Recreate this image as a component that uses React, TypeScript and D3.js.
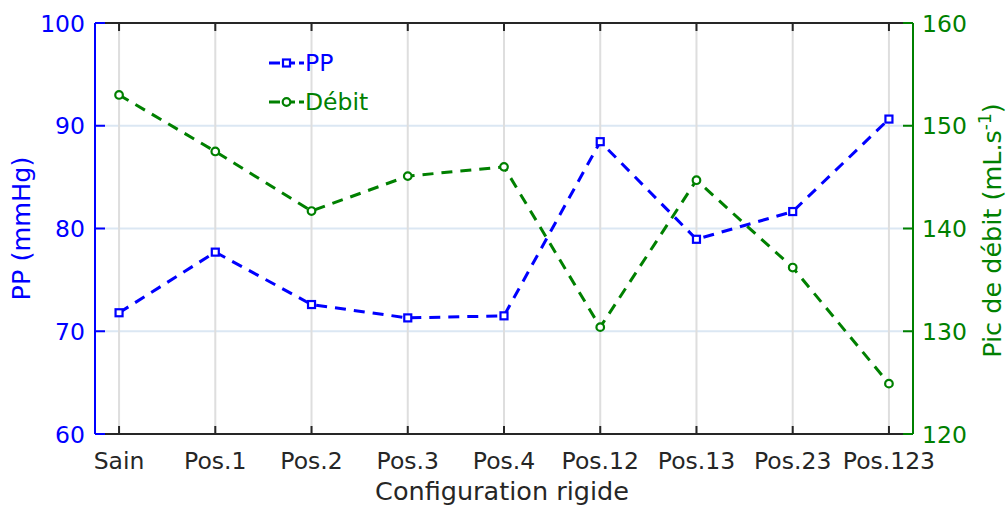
import React from "react";
import * as d3 from "d3";

const categories = ["Sain", "Pos.1", "Pos.2", "Pos.3", "Pos.4", "Pos.12", "Pos.13", "Pos.23", "Pos.123"];
const ppValues = [71.8, 77.7, 72.6, 71.3, 71.5, 88.45, 78.95, 81.65, 90.65];
const debitValues = [153.0, 147.5, 141.7, 145.1, 146.0, 130.4, 144.7, 136.2, 124.9];
const leftTicks = [60, 70, 80, 90, 100];
const rightTicks = [120, 130, 140, 150, 160];

const W = 1008, H = 505;
const L = 95, R = 913, T = 23, B = 434;
const BLUE = "#0000ff";
const GREEN = "#008000";
const FONT = "DejaVu Sans, Verdana, sans-serif";
const TICK_FS = 23.5;
const TITLE_FS = 25.5;

export default function App() {
  const x = d3.scaleLinear().domain([-0.25, categories.length - 0.75]).range([L, R]);
  const yL = d3.scaleLinear().domain([60, 100]).range([B, T]);
  const yR = d3.scaleLinear().domain([120, 160]).range([B, T]);
  const linePP = d3.line<number>().x((_, i) => x(i)).y((d) => yL(d));
  const lineD = d3.line<number>().x((_, i) => x(i)).y((d) => yR(d));

  return (
    <svg width={W} height={H} style={{ position: "absolute", left: 0, top: 0, background: "#fff" }} fontFamily={FONT}>
      {leftTicks.slice(1, -1).map((t) => (
        <line key={"h" + t} x1={L} x2={R} y1={yL(t)} y2={yL(t)} stroke="#dbe7f3" strokeWidth={2} />
      ))}
      {categories.map((c, i) => (
        <line key={"v" + c} x1={x(i)} x2={x(i)} y1={T} y2={B} stroke="#dedede" strokeWidth={2} />
      ))}
      <line x1={L} x2={R} y1={T} y2={T} stroke="#262626" strokeWidth={2} />
      <line x1={L} x2={R} y1={B} y2={B} stroke="#262626" strokeWidth={2} />
      {categories.map((c, i) => (
        <g key={"t" + c}>
          <line x1={x(i)} x2={x(i)} y1={T} y2={T + 8} stroke="#262626" strokeWidth={2} />
          <line x1={x(i)} x2={x(i)} y1={B} y2={B - 8} stroke="#262626" strokeWidth={2} />
          <text x={x(i)} y={B + 35} textAnchor="middle" fontSize={TICK_FS} fill="#262626">{c}</text>
        </g>
      ))}
      <line x1={L} x2={L} y1={T} y2={B} stroke={BLUE} strokeWidth={2} />
      {leftTicks.map((t) => (
        <g key={"l" + t}>
          <line x1={L} x2={L + 10} y1={yL(t)} y2={yL(t)} stroke={BLUE} strokeWidth={2} />
          <text x={L - 10} y={yL(t) + 8.5} textAnchor="end" fontSize={TICK_FS} fill={BLUE}>{t}</text>
        </g>
      ))}
      <line x1={R} x2={R} y1={T} y2={B} stroke={GREEN} strokeWidth={2} />
      {rightTicks.map((t) => (
        <g key={"r" + t}>
          <line x1={R} x2={R - 10} y1={yR(t)} y2={yR(t)} stroke={GREEN} strokeWidth={2} />
          <text x={R + 9} y={yR(t) + 8.5} textAnchor="start" fontSize={TICK_FS} fill={GREEN}>{t}</text>
        </g>
      ))}
      <path d={linePP(ppValues) || ""} fill="none" stroke={BLUE} strokeWidth={3} strokeDasharray="11,8" />
      <path d={lineD(debitValues) || ""} fill="none" stroke={GREEN} strokeWidth={3} strokeDasharray="11,8" />
      {ppValues.map((v, i) => (
        <rect key={"pp" + i} x={x(i) - 3.5} y={yL(v) - 3.5} width={7} height={7} fill="#fff" stroke={BLUE} strokeWidth={2.2} />
      ))}
      {debitValues.map((v, i) => (
        <circle key={"d" + i} cx={x(i)} cy={yR(v)} r={3.8} fill="#fff" stroke={GREEN} strokeWidth={2.2} />
      ))}
      <g>
        <line x1={269} x2={304} y1={63} y2={63} stroke={BLUE} strokeWidth={3} strokeDasharray="11,4" />
        <rect x={283} y={59.5} width={7} height={7} fill="#fff" stroke={BLUE} strokeWidth={2.2} />
        <text x={305} y={71} fontSize={TICK_FS} fill={BLUE}>PP</text>
        <line x1={269} x2={304} y1={102} y2={102} stroke={GREEN} strokeWidth={3} strokeDasharray="11,4" />
        <circle cx={286.5} cy={102} r={3.8} fill="#fff" stroke={GREEN} strokeWidth={2.2} />
        <text x={305} y={110} fontSize={TICK_FS} fill={GREEN}>Débit</text>
      </g>
      <text x={502} y={500} textAnchor="middle" fontSize={TITLE_FS} fill="#262626">Configuration rigide</text>
      <text transform={`translate(30,${(T + B) / 2}) rotate(-90)`} textAnchor="middle" fontSize={TITLE_FS} fill={BLUE}>PP (mmHg)</text>
      <text transform={`translate(1001,${(T + B) / 2 + 2}) rotate(-90)`} textAnchor="middle" fontSize={TITLE_FS} fill={GREEN}>
        Pic de débit (mL.s<tspan dy={-10} fontSize={17}>-1</tspan><tspan dy={10}>)</tspan>
      </text>
    </svg>
  );
}
